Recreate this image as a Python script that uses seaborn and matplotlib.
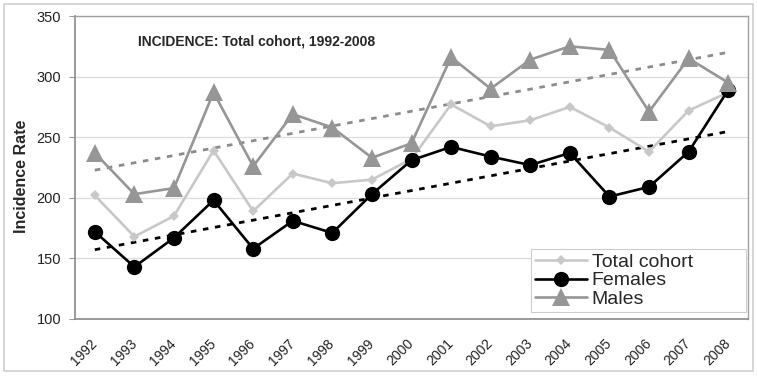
import numpy as np
import pandas as pd
import matplotlib
matplotlib.use('Agg')
import matplotlib.pyplot as plt
import seaborn as sns
from matplotlib.ticker import MultipleLocator
from matplotlib.patches import Rectangle

# datos
years = [1992, 1993, 1994, 1995, 1996, 1997, 1998, 1999, 2000,
         2001, 2002, 2003, 2004, 2005, 2006, 2007, 2008]
total_cohort = [202, 168, 185, 239, 189, 220, 212, 215, 232,
                277, 259, 264, 275, 258, 238, 272, 287]
females = [172, 143, 167, 198, 158, 181, 171, 203, 231,
           242, 234, 227, 237, 201, 209, 238, 289]
males = [237, 203, 208, 287, 226, 269, 258, 233, 245,
         316, 290, 314, 325, 322, 271, 315, 295]
year_labels = [str(y) for y in years]

sns.set_theme(style='white')
plt.rcParams['font.family'] = ['Liberation Sans', 'DejaVu Sans']

df = pd.DataFrame({'year': years, 'total': total_cohort, 'fem': females, 'male': males})

W, H = 757, 376
fig = plt.figure(figsize=(W / 100, H / 100), dpi=100)
# borde del area del grafico (estilo Excel)
fig.patches.append(Rectangle((4 / W, 5 / H), 749 / W, 367 / H, transform=fig.transFigure,
                             fill=False, edgecolor='#d0d0d0', linewidth=1.2))
ax = fig.add_axes([75 / W, 1 - 319 / H, 673 / W, 303 / H])

ax.grid(axis='y', color='#dcdcdc', linewidth=0.9)
ax.set_axisbelow(True)

# lineas de tendencia (ajuste lineal)
sns.regplot(data=df, x='year', y='male', scatter=False, ci=None, ax=ax,
            line_kws=dict(color='#8c8c8c', linewidth=2, linestyle=(0, (2, 2.4)), zorder=2))
sns.regplot(data=df, x='year', y='fem', scatter=False, ci=None, ax=ax,
            line_kws=dict(color='black', linewidth=2, linestyle=(0, (2, 2.4)), zorder=2))

sns.lineplot(data=df, x='year', y='total', ax=ax, color='#c8c8c8', linewidth=1.9,
             marker='D', markersize=5, markeredgewidth=0, label='Total cohort', zorder=3)
sns.lineplot(data=df, x='year', y='fem', ax=ax, color='black', linewidth=1.9,
             marker='o', markersize=11, markeredgewidth=0, label='Females', zorder=4)
sns.lineplot(data=df, x='year', y='male', ax=ax, color='#969696', linewidth=1.9,
             marker='^', markersize=13, markeredgewidth=0, label='Males', zorder=5)

ax.set_xlim(1991.5, 2008.5)
ax.set_ylim(100, 350)
ax.yaxis.set_major_locator(MultipleLocator(50))
ax.set_xticks(years)
ax.set_xticklabels(year_labels, rotation=45, ha='right', va='center', rotation_mode='anchor',
                   fontsize=10, color='#222222')
ax.set_xticks(np.arange(1991.5, 2009, 1), minor=True)
ax.tick_params(axis='x', which='major', length=0, pad=16)
ax.tick_params(axis='x', which='minor', length=4, color='#999999', width=0.8, direction='out')
ax.tick_params(axis='y', labelsize=10.5, labelcolor='#222222', length=4, width=0.8,
               color='#999999', direction='out', pad=6, left=True)

for s in ['top', 'right']:
    ax.spines[s].set_color('#a0a0a0')
    ax.spines[s].set_linewidth(1)
for s in ['left', 'bottom']:
    ax.spines[s].set_color('#8a8a8a')
    ax.spines[s].set_linewidth(1.2)

ax.set_xlabel('')
ax.set_ylabel('Incidence Rate', fontsize=11.5, fontweight='bold')
ax.yaxis.set_label_coords(-0.068, 0.472)

ax.text(0.094, 0.915, 'INCIDENCE: Total cohort, 1992-2008', transform=ax.transAxes,
        fontsize=10, fontweight='bold', va='center')

h, l = ax.get_legend_handles_labels()
leg = ax.legend(h, l, loc='lower left', bbox_to_anchor=(0.677, 0.023, 0.320, 0.2),
                mode='expand', fontsize=14, frameon=True, fancybox=False,
                edgecolor='#cccccc', framealpha=1, labelspacing=0.06, handlelength=2.7,
                handletextpad=0.25, borderpad=0.2, borderaxespad=0)
leg.get_frame().set_linewidth(0.8)

fig.savefig('out.png', dpi=100)
